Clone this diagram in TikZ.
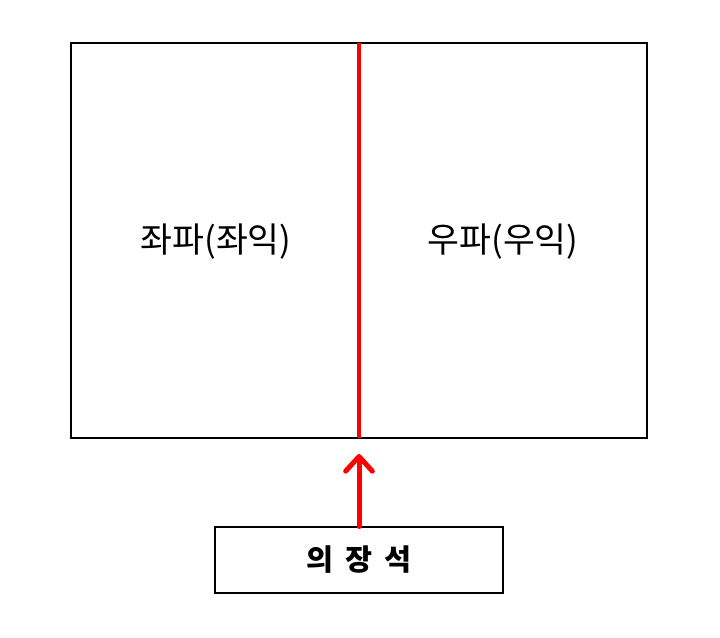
\documentclass[tikz,border=0pt]{standalone}
\usepackage{fontspec}
\newfontfamily\kofont{Noto Sans CJK KR}
\usetikzlibrary{arrows.meta}

\begin{document}
\begin{tikzpicture}[x=0.75pt, y=-0.75pt,
    wing/.style={font=\kofont\fontsize{26}{30}\selectfont},
    seatbox/.style={draw, line width=0.8pt, minimum width=216pt, minimum height=49.5pt, font=\kofont\bfseries\fontsize{22}{26}\selectfont}]
                    \useasboundingbox (0,0) rectangle (720,638);
                    \draw[line width=0.8pt] (71,43) rectangle (647,438);
                    \coordinate (top) at (359,43);
                    \coordinate (bottom) at (359,438);
                    \draw[line width=2.3pt, red] (top) -- (bottom);
                    \node[wing] (left) at (216,242) {좌파(좌익)};
                    \node[wing] (right) at (503,242) {우파(우익)};
                    \node[seatbox] (seat) at (359,560) {의\hspace{0.4em}장\hspace{0.4em}석};
                    \draw[line width=3.75pt, red, line cap=round, -{Straight Barb[length=11pt, width=20pt, round]}] (seat.north) -- ([yshift=-12]bottom);
                \end{tikzpicture}
\end{document}
